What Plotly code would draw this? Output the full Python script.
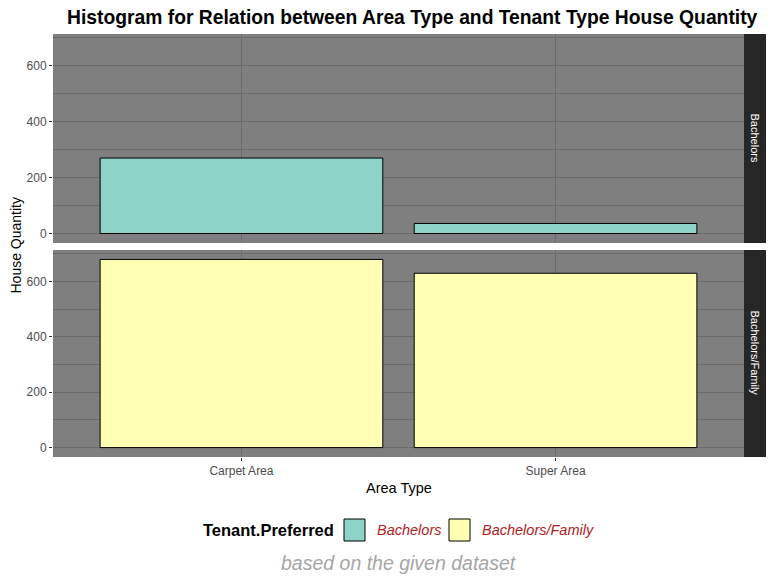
import plotly.graph_objects as go
from plotly.subplots import make_subplots

categories = ["Carpet Area", "Super Area"]
tenant_types = ["Bachelors", "Bachelors/Family"]
counts_bachelors = [270, 36]
counts_family = [680, 630]
colors = ["#8DD3C7", "#FFFFB3"]

W, H = 775, 581
ml, mr, mt, mb = 53, 9, 34, 124
pw = W - ml - mr
ph = H - mt - mb
panel_right = (744 - ml) / pw
top_dom = [(457 - 243) / ph, 1.0]
bot_dom = [0.0, (457 - 250) / ph]


def px_x(p):
    return (p - ml) / pw


def px_y(p):
    return (H - mb - p) / ph


fig = make_subplots(rows=2, cols=1)

for i, (name, vals) in enumerate(zip(tenant_types, [counts_bachelors, counts_family])):
    fig.add_trace(go.Bar(
        x=categories, y=vals, name=name, width=0.9,
        marker=dict(color=colors[i], line=dict(color="black", width=1)),
        hoverinfo="x+y", showlegend=False,
    ), row=i + 1, col=1)

grid_col = "#6b6b6b"
axis_common = dict(showline=False, zeroline=False, ticks="outside", ticklen=3,
                   tickcolor="#333333",
                   tickfont=dict(family="Liberation Sans, Arial", size=12, color="#4d4d4d"))

fig.update_layout(
    width=W, height=H,
    margin=dict(l=ml, r=mr, t=mt, b=mb),
    paper_bgcolor="white", plot_bgcolor="#7f7f7f",
    bargap=0.1,
    font=dict(family="Liberation Sans, Arial", color="black"),
    showlegend=False,
)

for ax in ["xaxis", "xaxis2"]:
    fig.layout[ax].update(domain=[0, panel_right], range=[-0.6, 1.6], showgrid=True,
                          gridcolor=grid_col, gridwidth=1, **axis_common)
fig.layout.xaxis.update(showticklabels=False, ticks="", matches="x2")
fig.layout.xaxis2.update(showticklabels=True)

for ax, dom in [("yaxis", top_dom), ("yaxis2", bot_dom)]:
    fig.layout[ax].update(domain=dom, range=[-34, 714], tickvals=[0, 200, 400, 600],
                          showgrid=True, gridcolor=grid_col, gridwidth=1,
                          minor=dict(tickvals=[100, 300, 500, 700], showgrid=True,
                                     gridcolor=grid_col, gridwidth=0.6, ticks=""),
                          **axis_common)

shapes = []
annotations = []
# facet strips
for dom, label in [(top_dom, tenant_types[0]), (bot_dom, tenant_types[1])]:
    shapes.append(dict(type="rect", xref="paper", yref="paper", x0=panel_right, x1=1.0,
                       y0=dom[0], y1=dom[1], fillcolor="#262626", line=dict(width=0), layer="below"))
    annotations.append(dict(text=label, xref="paper", yref="paper", x=(panel_right + 1) / 2,
                            y=(dom[0] + dom[1]) / 2, showarrow=False, textangle=90,
                            font=dict(size=11, color="#ffffff"), xanchor="center", yanchor="middle"))

# manual legend (ggplot-style large keys)
leg_y = px_y(530)
annotations.append(dict(text="<b>Tenant.Preferred</b>", xref="paper", yref="paper",
                        x=px_x(201), y=leg_y, xanchor="left", yanchor="middle", showarrow=False,
                        font=dict(size=16.5, color="black")))
key_x = [344, 449]
text_x = [375, 480]
for i, name in enumerate(tenant_types):
    shapes.append(dict(type="rect", xref="paper", yref="paper",
                       x0=px_x(key_x[i]), x1=px_x(key_x[i] + 21),
                       y0=px_y(541), y1=px_y(519),
                       fillcolor=colors[i], line=dict(color="black", width=1)))
    annotations.append(dict(text="<i>" + name + "</i>", xref="paper", yref="paper",
                            x=px_x(text_x[i]), y=leg_y, xanchor="left", yanchor="middle",
                            showarrow=False, font=dict(size=14.5, color="#B22222")))

annotations += [
    dict(text="<b>Histogram for Relation between Area Type and Tenant Type House Quantity</b>",
         xref="paper", yref="paper", x=px_x(412.5), y=px_y(17), xanchor="center", yanchor="middle",
         showarrow=False, font=dict(size=19.3, color="black")),
    dict(text="Area Type", xref="paper", yref="paper", x=panel_right / 2, y=px_y(488),
         xanchor="center", yanchor="middle", showarrow=False, font=dict(size=14.5, color="black")),
    dict(text="House Quantity", xref="paper", yref="paper", x=px_x(15), y=0.5,
         xanchor="center", yanchor="middle", textangle=-90, showarrow=False,
         font=dict(size=14, color="black")),
    dict(text="<i>based on the given dataset</i>", xref="paper", yref="paper", x=px_x(398.5),
         y=px_y(563), xanchor="center", yanchor="middle", showarrow=False,
         font=dict(size=19.5, color="#A6A6A6")),
]
fig.update_layout(shapes=shapes, annotations=annotations)

fig.write_html("out.html")
